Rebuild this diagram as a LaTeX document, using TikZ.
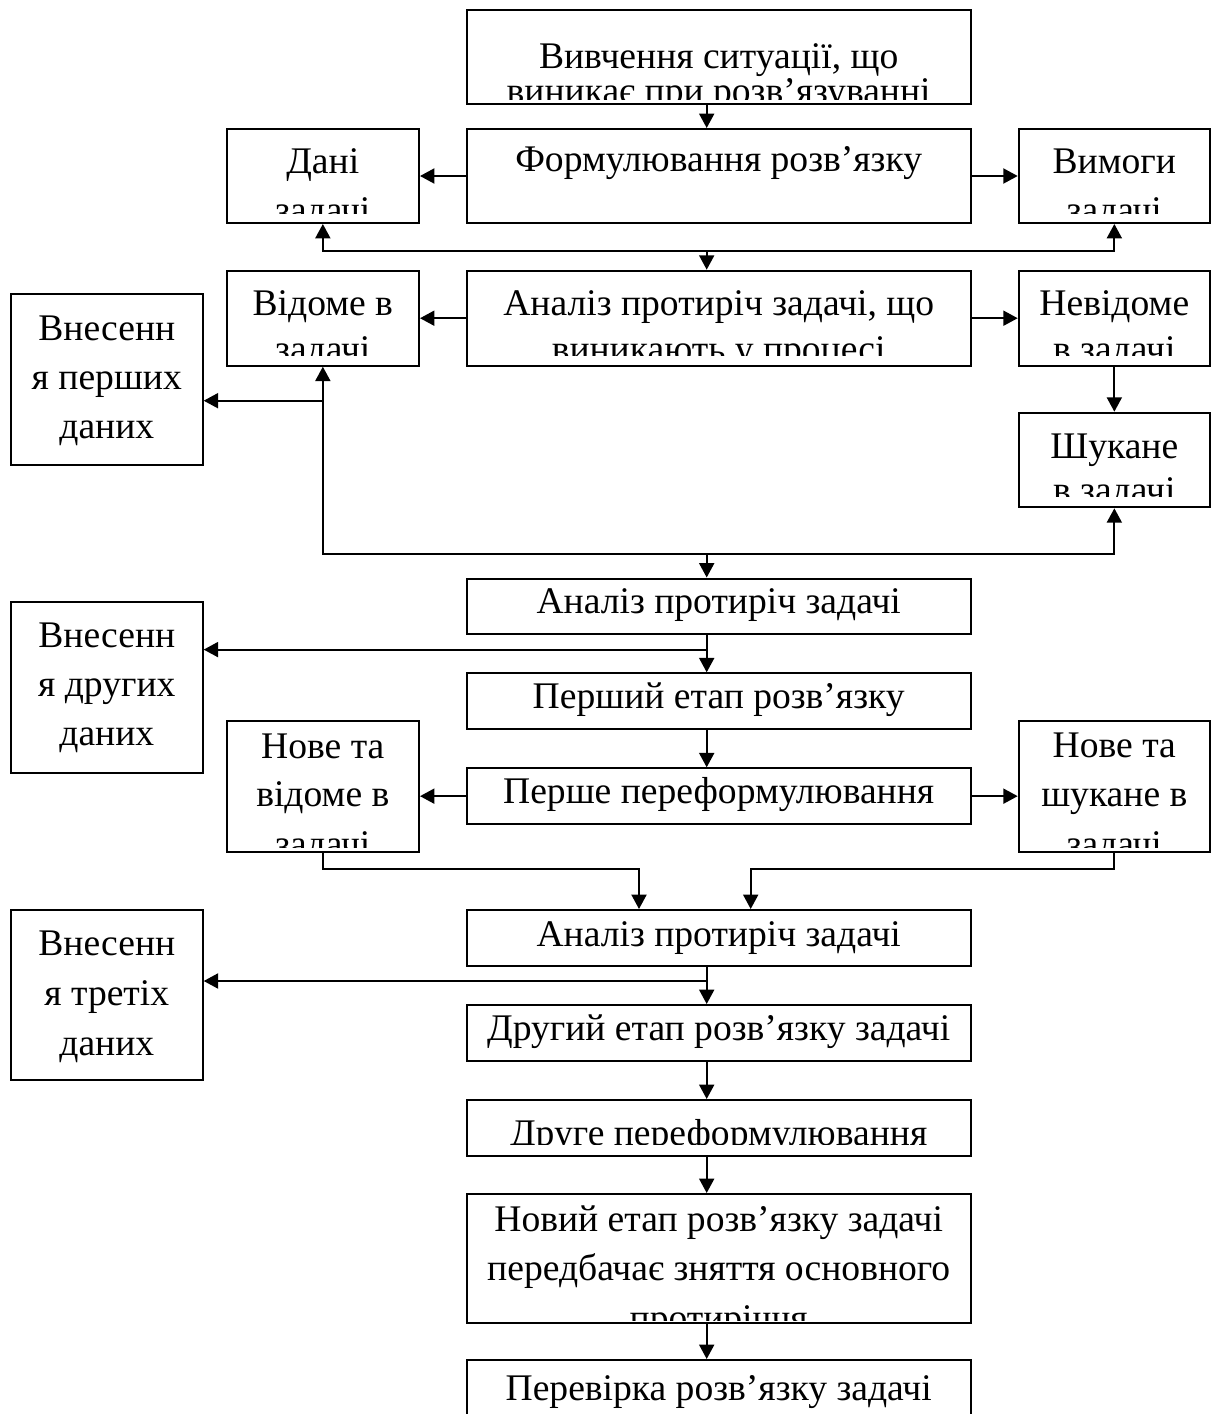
\documentclass[tikz,border=0pt]{standalone}
\usepackage{fontspec}
\setmainfont{Liberation Serif}
\usetikzlibrary{arrows.meta,fit}
\begin{document}
\begin{tikzpicture}[x=0.5pt,y=-0.5pt,
  box/.style={draw, line width=1pt, inner sep=0pt},
  lbl/.style={anchor=base, inner sep=0pt, font=\fontsize{18.8pt}{22pt}\selectfont},
  arr/.style={line width=1pt, -{Triangle[length=7.2pt,width=7.5pt]}},
  ln/.style={line width=1pt}]
\clip (0,0) rectangle (1212,1414);
\fill[white] (0,0) rectangle (1212,1414);
\coordinate (cx) at (706.7,0);
% boxes
\node[box, fit={(466.7,10)(970.7,104.3)}] (b1) {};
\node[box, fit={(466.7,129)(970.7,223)}] (b2) {};
\node[box, fit={(226.7,129)(419,223)}] (dani) {};
\node[box, fit={(1018.7,129)(1210,223)}] (vym) {};
\node[box, fit={(466.7,270.7)(970.7,365.7)}] (b3) {};
\node[box, fit={(226.7,270.7)(419,365.7)}] (vid) {};
\node[box, fit={(1018.7,270.7)(1210,365.7)}] (nevid) {};
\node[box, fit={(11,294)(202.7,465)}] (vn1) {};
\node[box, fit={(1018.7,412.7)(1210,507.3)}] (shuk) {};
\node[box, fit={(466.7,578.5)(970.7,634)}] (b4) {};
\node[box, fit={(11,602.3)(202.7,772.7)}] (vn2) {};
\node[box, fit={(466.7,673.3)(970.7,729)}] (b5) {};
\node[box, fit={(226.7,720.7)(419,851.7)}] (nvid) {};
\node[box, fit={(1018.7,720.7)(1210,851.7)}] (nshuk) {};
\node[box, fit={(466.7,768.3)(970.7,824)}] (b6) {};
\node[box, fit={(466.7,910)(970.7,966)}] (b7) {};
\node[box, fit={(11,910)(202.7,1080)}] (vn3) {};
\node[box, fit={(466.7,1005)(970.7,1061)}] (b8) {};
\node[box, fit={(466.7,1100)(970.7,1155.7)}] (b9) {};
\node[box, fit={(466.7,1194)(970.7,1322.7)}] (b10) {};
\node[box, fit={(466.7,1360)(970.7,1450)}] (b11) {};
% texts
\begin{scope}
\clip (466.7,10) rectangle (970.7,99);
\node[lbl] (t1a) at (718.7,68) {Вивчення ситуації, що};
\node[lbl] (t1b) at (718.7,103) {виникає при розв’язуванні};
\end{scope}
\node[lbl] (t2) at (718.7,171.7) {Формулювання розв’язку};
\begin{scope}
\clip (226.7,129) rectangle (419,213);
\node[lbl] (tda) at (322.8,173) {Дані};
\node[lbl] (tdb) at (322.8,222) {задачі};
\end{scope}
\begin{scope}
\clip (1018.7,129) rectangle (1210,213);
\node[lbl] (tva) at (1114.3,173) {Вимоги};
\node[lbl] (tvb) at (1114.3,222) {задачі};
\end{scope}
\begin{scope}
\clip (226.7,270.7) rectangle (1210,355);
\node[lbl] (t3a) at (718.7,315) {Аналіз протиріч задачі, що};
\node[lbl] (t3b) at (718.7,361) {виникають у процесі};
\node[lbl] (tvia) at (322.8,315) {Відоме в};
\node[lbl] (tvib) at (322.8,361) {задачі};
\node[lbl] (tnea) at (1114.3,315) {Невідоме};
\node[lbl] (tneb) at (1114.3,361) {в задачі};
\end{scope}
\node[lbl] (tv1a) at (106.8,340) {Внесенн};
\node[lbl] (tv1b) at (106.8,389) {я перших};
\node[lbl] (tv1c) at (106.8,438) {даних};
\begin{scope}
\clip (1018.7,412.7) rectangle (1210,496);
\node[lbl] (tsha) at (1114.3,458.3) {Шукане};
\node[lbl] (tshb) at (1114.3,502) {в задачі};
\end{scope}
\node[lbl] (t4) at (718.7,613.3) {Аналіз протиріч задачі};
\node[lbl] (tv2a) at (106.8,647.3) {Внесенн};
\node[lbl] (tv2b) at (106.8,696.7) {я других};
\node[lbl] (tv2c) at (106.8,745) {даних};
\node[lbl] (t5) at (718.7,708) {Перший етап розв’язку};
\begin{scope}
\clip (226.7,720.7) rectangle (1210,847.5);
\node[lbl] (tnva) at (322.8,758) {Нове та};
\node[lbl] (tnvb) at (322.8,806.7) {відоме в};
\node[lbl] (tnvc) at (322.8,856) {задачі};
\node[lbl] (tnsa) at (1114.3,757) {Нове та};
\node[lbl] (tnsb) at (1114.3,806.7) {шукане в};
\node[lbl] (tnsc) at (1114.3,856) {задачі};
\end{scope}
\node[lbl] (t6) at (718.7,803.3) {Перше переформулювання};
\node[lbl] (t7) at (718.7,946.7) {Аналіз протиріч задачі};
\node[lbl] (tv3a) at (106.8,955) {Внесенн};
\node[lbl] (tv3b) at (106.8,1005) {я третіх};
\node[lbl] (tv3c) at (106.8,1055) {даних};
\node[lbl] (t8) at (718.7,1040) {Другий етап розв’язку задачі};
\begin{scope}
\clip (466.7,1100) rectangle (970.7,1144);
\node[lbl] (t9) at (718.7,1145) {Друге переформулювання};
\end{scope}
\begin{scope}
\clip (466.7,1194) rectangle (970.7,1320);
\node[lbl] (t10a) at (718.7,1231.7) {Новий етап розв’язку задачі};
\node[lbl] (t10b) at (718.7,1280) {передбачає зняття основного};
\node[lbl] (t10c) at (718.7,1330) {протиріччя};
\end{scope}
\node[lbl] (t11) at (718.7,1400) {Перевірка розв’язку задачі};
% connectors
\draw[arr] (b1.south -| cx) -- (b2.north -| cx);
\draw[arr] (b2.west) -- (dani.east);
\draw[arr] (b2.east) -- (vym.west);
\coordinate (j1) at (706.7,251);
\draw[arr] (j1) -| (dani.south);
\draw[arr] (j1) -| (vym.south);
\draw[arr] (j1) -- (b3.north -| j1);
\draw[arr] (b3.west) -- (vid.east);
\draw[arr] (b3.east) -- (nevid.west);
\draw[arr] (nevid.south) -- (shuk.north);
\coordinate (j2) at (706.7,554.3);
\draw[arr] (j2) -| (vid.south);
\draw[arr] (j2) -| (shuk.south);
\draw[arr] (j2) -- (b4.north -| j2);
\coordinate (k1) at (322.8,400.7);
\draw[arr] (k1) -- (k1 -| vn1.east);
\draw[arr] (b4.south -| cx) -- (b5.north -| cx);
\coordinate (k2) at (706.7,649.6);
\draw[arr] (k2) -- (k2 -| vn2.east);
\draw[arr] (b5.south -| cx) -- (b6.north -| cx);
\draw[arr] (b6.west) -- (b6.west -| nvid.east);
\draw[arr] (b6.east) -- (b6.east -| nshuk.west);
\coordinate (k4) at (639,868.7);
\coordinate (k5) at (750.7,868.7);
\draw[arr] (nvid.south) |- (k4) -- (k4 |- b7.north);
\draw[arr] (nshuk.south) |- (k5) -- (k5 |- b7.north);
\draw[arr] (b7.south -| cx) -- (b8.north -| cx);
\coordinate (k3) at (706.7,981);
\draw[arr] (k3) -- (k3 -| vn3.east);
\draw[arr] (b8.south -| cx) -- (b9.north -| cx);
\draw[arr] (b9.south -| cx) -- (b10.north -| cx);
\draw[arr] (b10.south -| cx) -- (b11.north -| cx);
\end{tikzpicture}
\end{document}
